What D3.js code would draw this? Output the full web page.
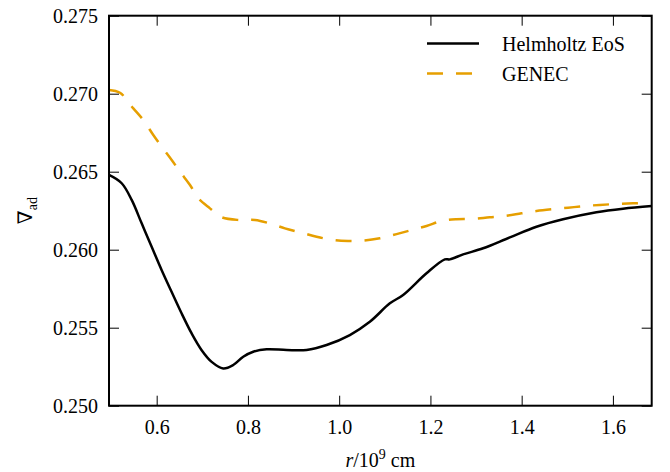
<!DOCTYPE html>
<html><head><meta charset="utf-8">
<script src="https://cdn.jsdelivr.net/npm/d3@7"></script>
<style>body{margin:0;background:#fff}svg{display:block}text{font-family:"Liberation Serif","DejaVu Serif",serif;fill:#000}</style>
</head><body><svg id="c" width="670" height="472"></svg>
<script>
const xTicks = [0.6, 0.8, 1.0, 1.2, 1.4, 1.6];
const yTicks = [0.250, 0.255, 0.260, 0.265, 0.270, 0.275];
const seriesNames = ["Helmholtz EoS", "GENEC"];
const helmR = [0.4955,0.5233,0.5452,0.5671,0.589,0.611,0.6329,0.6548,0.6767,0.6986,0.7205,0.7459,0.7678,0.7897,0.8116,0.841,0.8848,0.9286,0.9724,1.0234,1.0672,1.1111,1.1402,1.1914,1.2316,1.2425,1.2717,1.3155,1.374,1.4324,1.4907,1.5638,1.6221,1.685];
const helmV = [0.26479,0.26426,0.26319,0.26169,0.26019,0.25869,0.25729,0.25591,0.25463,0.25356,0.25281,0.25239,0.25261,0.25314,0.25346,0.25362,0.25357,0.25357,0.25389,0.25453,0.25538,0.25656,0.2571,0.25849,0.25938,0.25938,0.2597,0.26009,0.26079,0.26147,0.26195,0.2624,0.26263,0.2628];
const genecR = [0.4955,0.5196,0.5488,0.5707,0.5926,0.611,0.6329,0.651,0.673,0.6911,0.7168,0.7424,0.7825,0.8153,0.8519,0.881,0.9176,0.9505,0.9869,1.0197,1.0526,1.0891,1.1257,1.1586,1.1914,1.2243,1.2571,1.2936,1.3301,1.363,1.3995,1.4324,1.4653,1.5017,1.5383,1.5711,1.6077,1.6441,1.685];
const genecV = [0.27024,0.27006,0.26906,0.26831,0.26735,0.2666,0.26575,0.265,0.26415,0.2633,0.26265,0.26208,0.2619,0.2619,0.26165,0.26137,0.26109,0.26083,0.26062,0.26056,0.26058,0.26073,0.261,0.26126,0.26152,0.26184,0.26195,0.26197,0.26208,0.26216,0.26233,0.26248,0.26259,0.26269,0.2628,0.26287,0.26293,0.26297,0.26303];

const L=109, R=651.7, T=15.7, B=405.7;
const x = d3.scaleLinear().domain([0.4955,1.685]).range([L,R]);
const y = d3.scaleLinear().domain([0.250,0.275]).range([B,T]);
const svg = d3.select("#c");

const line = d3.line().x(d=>x(d[0])).y(d=>y(d[1])).curve(d3.curveCatmullRom.alpha(0.5));
svg.append("path").datum(helmR.map((r,i)=>[r,helmV[i]])).attr("d",line)
  .attr("fill","none").attr("stroke","#000").attr("stroke-width",2.5);
svg.append("path").datum(genecR.map((r,i)=>[r,genecV[i]])).attr("d",line)
  .attr("fill","none").attr("stroke","#E69F00").attr("stroke-width",2.5).attr("stroke-dasharray","16,13");

const tl=10;
const fmtX = d3.format(".1f"), fmtY = d3.format(".3f");
const ax = svg.append("g").attr("transform",`translate(0,${B})`)
  .call(d3.axisBottom(x).tickValues(xTicks).tickSize(-tl).tickPadding(14).tickFormat(fmtX));
const axT = svg.append("g").attr("transform",`translate(0,${T})`)
  .call(d3.axisTop(x).tickValues(xTicks).tickSize(-tl).tickFormat(""));
const ay = svg.append("g").attr("transform",`translate(${L},0)`)
  .call(d3.axisLeft(y).tickValues(yTicks).tickSize(-tl).tickPadding(11).tickFormat(fmtY));
const ayR = svg.append("g").attr("transform",`translate(${R},0)`)
  .call(d3.axisRight(y).tickValues(yTicks).tickSize(-tl).tickFormat(""));
[ax,axT,ay,ayR].forEach(g=>{
  g.attr("font-family","Liberation Serif").attr("font-size",20);
  g.select(".domain").remove();
  g.selectAll(".tick line").attr("stroke","#000").attr("stroke-width",1);
  g.selectAll("text").attr("font-size",20).style("font-family","'Liberation Serif', serif");
});
ay.selectAll(".tick text").attr("dy","0.33em");
svg.append("rect").attr("x",L).attr("y",T).attr("width",R-L).attr("height",B-T)
  .attr("fill","none").attr("stroke","#000").attr("stroke-width",2);

// axis labels
const xl = svg.append("text").attr("x",(L+R)/2).attr("y",467).attr("text-anchor","middle").attr("font-size",20);
xl.append("tspan").attr("font-style","italic").text("r");
xl.append("tspan").text("/10");
xl.append("tspan").attr("font-size",14).attr("dy",-8).text("9");
xl.append("tspan").attr("dy",8).text(" cm");
const yl = svg.append("text").attr("transform",`translate(32,${(T+B)/2}) rotate(-90)`).attr("text-anchor","middle").attr("font-size",20);
yl.append("tspan").text("∇");
yl.append("tspan").attr("font-size",14).attr("dy",5).text("ad");

// legend
const leg = svg.append("g");
const colors = ["#000","#E69F00"], dashes=[null,"16,13"];
seriesNames.forEach((n,i)=>{
  const yy = 43.5 + i*30;
  leg.append("line").attr("x1",427).attr("x2",479).attr("y1",yy).attr("y2",yy)
    .attr("stroke",colors[i]).attr("stroke-width",2.5).attr("stroke-dasharray",dashes[i]);
  leg.append("text").attr("x",502).attr("y",yy+7).attr("font-size",20).text(n);
});
</script></body></html>
